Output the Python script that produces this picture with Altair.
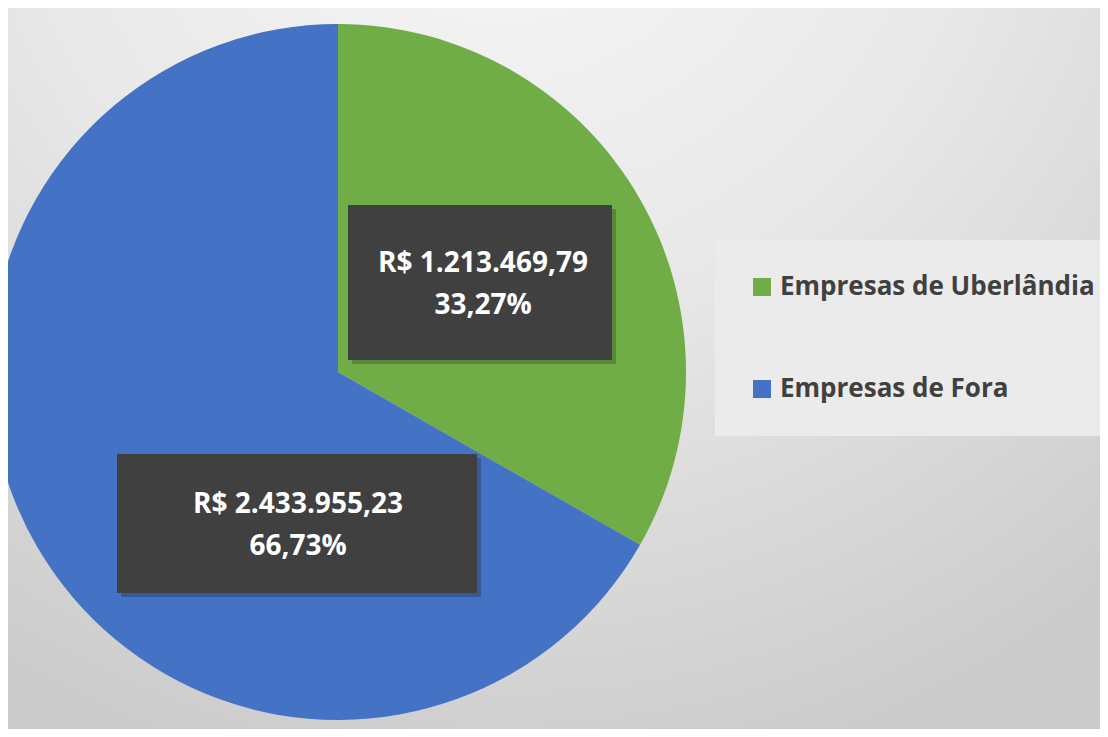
import altair as alt
import pandas as pd

# ---- data ----
categories = ["Empresas de Uberlândia", "Empresas de Fora"]
values = [1213469.79, 2433955.23]
colors = ["#70AD47", "#4472C4"]

# ---- layout (view pixels) ----
W, H = 1092, 721
PIE_CX, PIE_CY, PIE_R = 330, 364, 348
label_boxes = [  # centre x, centre y, width, height of each dark label box
    (472, 274.5, 264, 155),
    (289, 515.5, 360, 139),
]
label_text_pos = [(475, 256), (290, 497)]  # first text line position


def brl(v):
    s = f"{v:,.2f}"
    return "R$ " + s.replace(",", "X").replace(".", ",").replace("X", ".")


total = sum(values)
pct = [v / total * 100 for v in values]

pie_df = pd.DataFrame({"category": categories, "value": values, "idx": list(range(len(values)))})

lab_rows = []
for i, (c, v, p) in enumerate(zip(categories, values, pct)):
    cx, cy, w, h = label_boxes[i]
    tx, ty = label_text_pos[i]
    lab_rows.append({
        "category": c,
        "label": brl(v) + "\n" + f"{p:.2f}".replace(".", ",") + "%",
        "x1": cx - w / 2, "x2": cx + w / 2, "y1": cy - h / 2, "y2": cy + h / 2,
        "sx1": cx - w / 2 + 4, "sx2": cx + w / 2 + 4, "sy1": cy - h / 2 + 4, "sy2": cy + h / 2 + 4,
        "tx": tx, "ty": ty,
    })
lab_df = pd.DataFrame(lab_rows)

bg_gradient = {
    "gradient": "radial",
    "x1": 0.45, "y1": 0.0, "r1": 0,
    "x2": 0.45, "y2": 0.0, "r2": 0.9,
    "stops": [
        {"offset": 0, "color": "#f8f8f8"},
        {"offset": 0.5, "color": "#e8e8e8"},
        {"offset": 1, "color": "#cbcbcb"},
    ],
}

background = alt.Chart(pd.DataFrame({"a": [0]})).mark_rect(fill=bg_gradient, stroke=None).encode(
    x=alt.value(0), x2=alt.value(W), y=alt.value(0), y2=alt.value(H),
)

pie = alt.Chart(pie_df).mark_arc(radius=PIE_R, stroke=None).encode(
    theta=alt.Theta("value:Q", stack=True),
    order=alt.Order("idx:Q"),
    color=alt.Color(
        "category:N",
        scale=alt.Scale(domain=categories, range=colors),
        sort=categories,
        legend=alt.Legend(
            title=None, orient="none", legendX=707, legendY=232, direction="vertical",
            fillColor="#ebebeb", padding=34, symbolType="square", symbolSize=324,
            symbolStrokeWidth=0, labelFont="Open Sans", labelFontSize=26,
            labelFontWeight="bold", labelColor="#404040", labelLimit=600,
            labelOffset=5, rowPadding=76,
        ),
    ),
    x=alt.value(PIE_CX),
    y=alt.value(PIE_CY),
)

shadow = alt.Chart(lab_df).mark_rect(color="#000000", opacity=0.22).encode(
    x=alt.X("sx1:Q", scale=None), x2="sx2:Q",
    y=alt.Y("sy1:Q", scale=None), y2="sy2:Q",
)

boxes = alt.Chart(lab_df).mark_rect(color="#404040").encode(
    x=alt.X("x1:Q", scale=None), x2="x2:Q",
    y=alt.Y("y1:Q", scale=None), y2="y2:Q",
)

texts = alt.Chart(lab_df).mark_text(
    font="Open Sans", fontSize=28, fontWeight="bold", color="#ffffff",
    align="center", baseline="middle", lineBreak="\n", lineHeight=42,
).encode(
    x=alt.X("tx:Q", scale=None),
    y=alt.Y("ty:Q", scale=None),
    text="label:N",
)

chart = alt.layer(background, pie, shadow, boxes, texts).properties(
    width=W, height=H,
    autosize=alt.AutoSizeParams(type="none"),
    padding=0,
).configure_view(stroke=None)

chart.save("out.html", embed_options={"renderer": "svg", "actions": False})
